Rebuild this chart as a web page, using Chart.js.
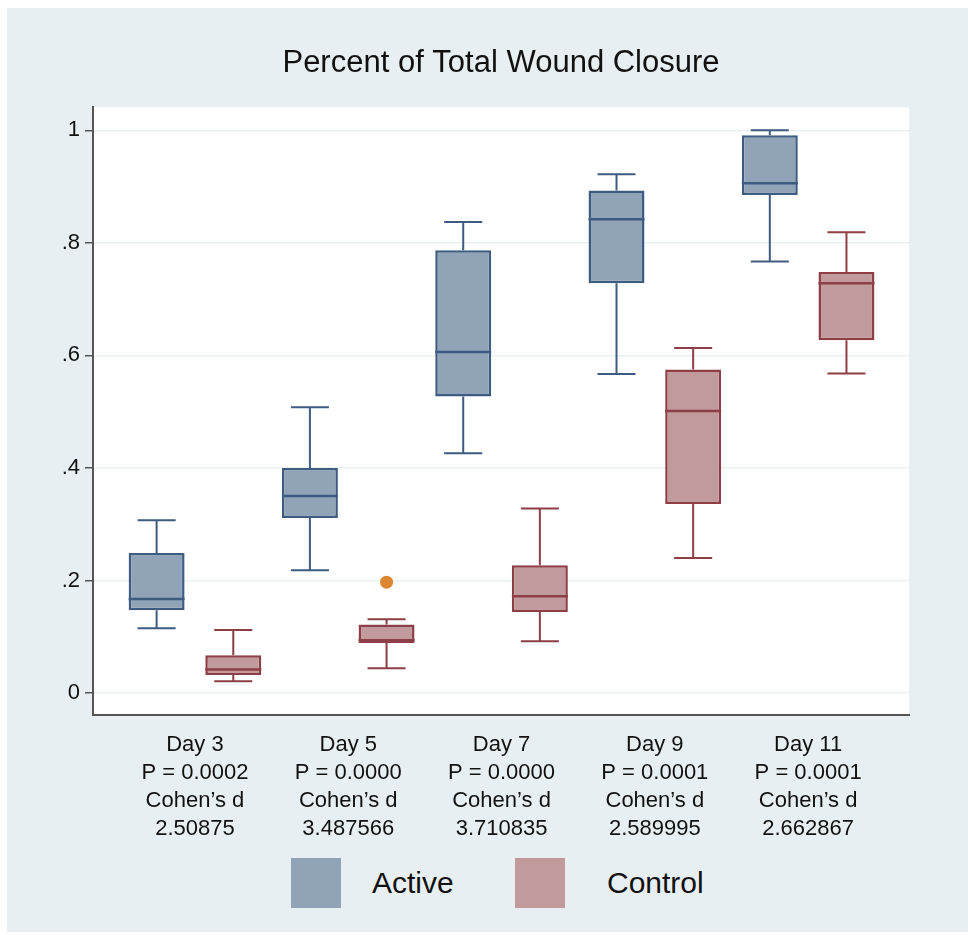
<!DOCTYPE html>
<html>
<head>
<meta charset="utf-8">
<title>Percent of Total Wound Closure</title>
<script src="https://cdn.jsdelivr.net/npm/chart.js@4.4.1/dist/chart.umd.min.js"></script>
<style>
    body {
        margin: 0;
        background: #ffffff;
        font-family: "Liberation Sans", Arial, Helvetica, sans-serif;
    }
    #frame {
        position: absolute;
        left: 7px;
        top: 8px;
        width: 961px;
        height: 924px;
        background: #e8eff2;
    }
    #chart-wrap {
        position: absolute;
        left: 0;
        top: 0;
        width: 961px;
        height: 840px;
    }
    .key {
        position: absolute;
        top: 850px;
        width: 50px;
        height: 50px;
    }
    .key-label {
        position: absolute;
        top: 850px;
        line-height: 50px;
        font-size: 30px;
        color: #111111;
    }
</style>
</head>
<body>
<div id="frame">
    <div id="chart-wrap"><canvas id="chart1"></canvas></div>
    <div class="key" style="left: 284px; background: #91a3b6"></div>
    <div class="key-label" style="left: 365px">Active</div>
    <div class="key" style="left: 508px; background: #c19a9c"></div>
    <div class="key-label" style="left: 600px">Control</div>
</div>
<script>
const days = ["Day 3", "Day 5", "Day 7", "Day 9", "Day 11"];
const pValues = ["0.0002", "0.0000", "0.0000", "0.0001", "0.0001"];
const cohensD = ["2.50875", "3.487566", "3.710835", "2.589995", "2.662867"];

const yTickValues = [0, 0.2, 0.4, 0.6, 0.8, 1];
const yTickLabels = ["0", ".2", ".4", ".6", ".8", "1"];

// Active group (box plot five numbers)
const activeMin = [0.115, 0.218, 0.426, 0.567, 0.767];
const activeQ1 = [0.147, 0.311, 0.527, 0.728, 0.885];
const activeMedian = [0.167, 0.35, 0.606, 0.842, 0.906];
const activeQ3 = [0.249, 0.4, 0.787, 0.893, 0.991];
const activeMax = [0.307, 0.508, 0.837, 0.922, 1.0];

// Control group
const controlMin = [0.021, 0.044, 0.092, 0.24, 0.568];
const controlQ1 = [0.032, 0.089, 0.144, 0.336, 0.627];
const controlMedian = [0.042, 0.094, 0.172, 0.501, 0.728];
const controlQ3 = [0.067, 0.122, 0.227, 0.575, 0.748];
const controlMax = [0.112, 0.131, 0.328, 0.613, 0.819];
const controlOutliers = [null, 0.197, null, null, null];

const fontFamily = '"Liberation Sans", Arial, Helvetica, sans-serif';

const groups = [
    { lo: activeMin, med: activeMedian, hi: activeMax, line: "#3e5c82", outliers: [] },
    { lo: controlMin, med: controlMedian, hi: controlMax, line: "#8e3e46", outliers: controlOutliers },
];

const plotBackground = {
    id: "plotBackground",
    beforeDraw(chart) {
        const { ctx, chartArea } = chart;
        ctx.save();
        ctx.fillStyle = "#ffffff";
        ctx.fillRect(chartArea.left, chartArea.top, chartArea.width, chartArea.height);
        ctx.restore();
    },
};

// whiskers, caps, medians and outliers on top of the floating bars
const boxWhiskers = {
    id: "boxWhiskers",
    afterDatasetsDraw(chart) {
        const ctx = chart.ctx;
        const y = chart.scales.y;
        groups.forEach((g, d) => {
            const meta = chart.getDatasetMeta(d);
            meta.data.forEach((bar, i) => {
                const raw = chart.data.datasets[d].data[i].y;
                const half = bar.width / 2;
                const cap = bar.width * 0.34;
                const yTop = y.getPixelForValue(g.hi[i]);
                const yBot = y.getPixelForValue(g.lo[i]);
                ctx.save();
                ctx.strokeStyle = g.line;
                ctx.lineWidth = 2;
                ctx.beginPath();
                ctx.moveTo(bar.x, y.getPixelForValue(raw[1]));
                ctx.lineTo(bar.x, yTop);
                ctx.moveTo(bar.x - cap, yTop);
                ctx.lineTo(bar.x + cap, yTop);
                ctx.moveTo(bar.x, y.getPixelForValue(raw[0]));
                ctx.lineTo(bar.x, yBot);
                ctx.moveTo(bar.x - cap, yBot);
                ctx.lineTo(bar.x + cap, yBot);
                ctx.stroke();

                ctx.lineWidth = 2.5;
                ctx.beginPath();
                const yMed = y.getPixelForValue(g.med[i]);
                ctx.moveTo(bar.x - half, yMed);
                ctx.lineTo(bar.x + half, yMed);
                ctx.stroke();

                if (g.outliers[i] != null) {
                    ctx.fillStyle = "#dc8630";
                    ctx.beginPath();
                    ctx.arc(bar.x, y.getPixelForValue(g.outliers[i]), 6.5, 0, Math.PI * 2);
                    ctx.fill();
                }
                ctx.restore();
            });
        });
    },
};

const ctx = document.getElementById("chart1").getContext("2d");

new Chart(ctx, {
    type: "bar",
    data: {
        datasets: [
            {
                label: "Active",
                data: days.map((d, i) => ({ x: i + 1, y: [activeQ1[i], activeQ3[i]] })),
                backgroundColor: "#91a3b6",
                borderColor: "#3e5c82",
                borderWidth: 2.5,
                borderSkipped: false,
            },
            {
                label: "Control",
                data: days.map((d, i) => ({ x: i + 1, y: [controlQ1[i], controlQ3[i]] })),
                backgroundColor: "#c19a9c",
                borderColor: "#8e3e46",
                borderWidth: 2.5,
                borderSkipped: false,
            },
        ],
    },
    options: {
        responsive: true,
        maintainAspectRatio: false,
        animation: false,
        barPercentage: 0.73,
        categoryPercentage: 1.0,
        layout: {
            padding: { left: 0, right: 59, top: 0, bottom: 0 },
        },
        plugins: {
            legend: { display: false },
            tooltip: { enabled: false },
            title: {
                display: true,
                text: "Percent of Total Wound Closure",
                fullSize: false,
                color: "#111111",
                font: { family: fontFamily, size: 31, weight: "normal", lineHeight: 1.2 },
                padding: { top: 37, bottom: 25 },
            },
        },
        scales: {
            x: {
                type: "linear",
                offset: false,
                min: 0.335,
                max: 5.658,
                afterBuildTicks: (axis) => {
                    axis.ticks = days.map((d, i) => ({ value: i + 1 }));
                },
                afterFit: (axis) => {
                    axis.height = 133;
                },
                grid: { display: false, drawTicks: false, offset: false },
                border: { display: true, color: "#555555", width: 2 },
                ticks: {
                    autoSkip: false,
                    maxRotation: 0,
                    padding: 16,
                    color: "#111111",
                    font: { family: fontFamily, size: 22, lineHeight: 28 / 22 },
                    callback: (value, index) => [
                        days[index],
                        "P = " + pValues[index],
                        "Cohen\u2019s d",
                        cohensD[index],
                    ],
                },
            },
            y: {
                min: -0.039,
                max: 1.041,
                afterBuildTicks: (axis) => {
                    axis.ticks = yTickValues.map((v) => ({ value: v }));
                },
                afterFit: (axis) => {
                    axis.width = 86;
                },
                grid: {
                    color: "#e9f1f3",
                    lineWidth: 1.5,
                    tickColor: "#555555",
                    tickLength: 8,
                    tickWidth: 1.5,
                },
                border: { display: true, color: "#555555", width: 2 },
                ticks: {
                    padding: 5,
                    color: "#111111",
                    font: { family: fontFamily, size: 22 },
                    callback: (value, index) => yTickLabels[index],
                },
            },
        },
    },
    plugins: [plotBackground, boxWhiskers],
});
</script>
</body>
</html>
